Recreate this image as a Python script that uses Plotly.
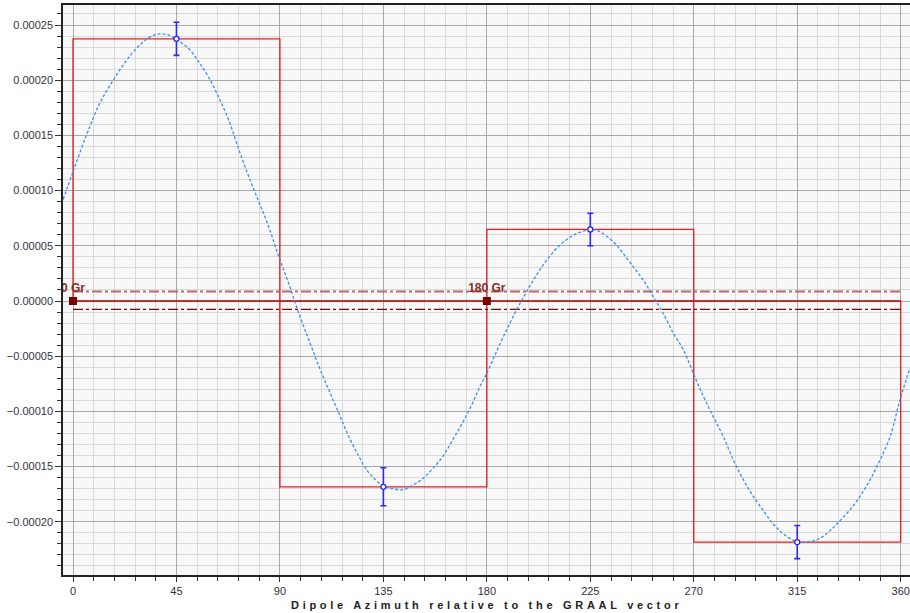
import plotly.graph_objects as go

# ---- data ----
bar_centers = [45, 135, 225, 315]
bar_values = [0.0002375, -0.0001683, 0.0000648, -0.0002184]
point_errors = [0.000015, 0.0000172, 0.0000147, 0.000015]

curve_deg = [-4.3, 0, 5.8, 11.6, 17.5, 23.3, 29.1, 34.2, 37.8, 41.5, 45, 50.2, 54.6,
             58.9, 63.3, 67.7, 72, 76.4, 80.8, 85.1, 89.5, 93.8, 98.2, 102.6, 107,
             111.3, 115.7, 120, 124.4, 128.8, 135.3, 138.9, 143.3, 147.7, 152, 156.4,
             160.8, 165.1, 169.5, 173.9, 177, 180, 184.2, 188.6, 192.9, 197.3, 201.6,
             206, 211.8, 217.6, 221.9, 225.3, 229.2, 235, 239.3, 243.7, 248, 252.4,
             256.7, 261.1, 265.5, 269.8, 274.2, 278.5, 282.9, 287.2, 291.6, 295.9,
             300.3, 304.6, 309, 314.8, 319.9, 324.9, 329.3, 333.6, 338, 342.3, 346.7,
             351, 355.4, 359.7, 364.0]
curve_val = [0.000092, 0.000117, 0.000150, 0.000179, 0.000200, 0.000218, 0.000232,
             0.000240, 0.000242, 0.000241, 0.000237, 0.000229, 0.000217, 0.000203,
             0.000185, 0.000164, 0.000138, 0.000113, 0.000090, 0.0000674, 0.0000402,
             0.000016, -0.0000112, -0.0000353, -0.0000595, -0.0000807, -0.000102,
             -0.000123, -0.000141, -0.000156, -0.000168, -0.000170, -0.000171,
             -0.000167, -0.000161, -0.000152, -0.000141, -0.000126, -0.000110,
             -0.000092, -0.0000774, -0.0000654, -0.0000458, -0.0000262, -0.0000081,
             0.0000084, 0.0000235, 0.000037, 0.0000506, 0.0000596, 0.0000633,
             0.0000648, 0.0000627, 0.0000536, 0.0000431, 0.000031, 0.000019,
             0.0000039, -0.0000111, -0.0000292, -0.0000443, -0.0000654, -0.0000864,
             -0.000105, -0.000123, -0.000144, -0.000162, -0.000177, -0.000190,
             -0.000202, -0.000211, -0.000218, -0.000218, -0.000215, -0.000208,
             -0.000199, -0.000189, -0.000177, -0.000162, -0.000144, -0.000123,
             -0.0000895, -0.0000608]

ref_x = [0, 360]
zero_level = [0.0, 0.0]
upper_level = [0.0000085, 0.0000085]
lower_level = [-0.0000075, -0.0000075]

marker_x = [0, 180]
marker_y = [0, 0]
marker_labels = ["0 Gr", "180 Gr"]

x_title = "Dipole Azimuth relative to the GRAAL vector"

FONT = "Liberation Sans, Arial, sans-serif"

fig = go.Figure()

fig.add_trace(go.Bar(
    x=bar_centers, y=bar_values, width=90,
    marker=dict(color="rgba(0,0,0,0)", line=dict(color="#e81c1c", width=1.3)),
    hoverinfo="skip"))

fig.add_trace(go.Scatter(x=ref_x, y=upper_level, mode="lines",
                         line=dict(color="#b86a6a", width=2, dash="10px,3px,3px,3px")))
fig.add_trace(go.Scatter(x=ref_x, y=lower_level, mode="lines",
                         line=dict(color="#6e0d0d", width=1.2, dash="10px,3px,3px,3px")))
fig.add_trace(go.Scatter(x=ref_x, y=zero_level, mode="lines",
                         line=dict(color="#8b1c1c", width=1.2)))

fig.add_trace(go.Scatter(x=curve_deg, y=curve_val, mode="lines",
                         line=dict(color="#3a8ef2", width=1.3, dash="3px,2px", shape="spline")))

fig.add_trace(go.Scatter(
    x=bar_centers, y=bar_values, mode="markers",
    marker=dict(symbol="circle", size=5, color="white", line=dict(color="#2323ff", width=1.3)),
    error_y=dict(type="data", array=point_errors, color="#2a2aff", thickness=1.6, width=3)))

fig.add_trace(go.Scatter(
    x=marker_x, y=marker_y, mode="markers+text",
    text=["<b>" + t + "</b>" for t in marker_labels],
    textposition="top center",
    textfont=dict(family=FONT, size=12, color="#8b2a2a"),
    marker=dict(symbol="square", size=8, color="#7a0000")))

fig.update_layout(
    width=910, height=613,
    margin=dict(l=63, r=0, t=5, b=38),
    paper_bgcolor="white", plot_bgcolor="#f8f8f8",
    showlegend=False,
    font=dict(family=FONT, size=11, color="#333340"),
)

fig.update_xaxes(
    range=[-4.35, 364.05], tick0=0, dtick=45, ticks="outside", ticklen=5,
    tickcolor="#333", showline=True, linecolor="#222", linewidth=1.5, mirror=True,
    showgrid=True, gridcolor="#a8a8a8", gridwidth=1, zeroline=False,
    tickfont=dict(family=FONT, size=11, color="#3a2a40"),
    minor=dict(dtick=9, tick0=0, ticks="outside", ticklen=4, tickcolor="#333",
               showgrid=True, gridcolor="#d9d9d9", gridwidth=1.3),
)
fig.update_yaxes(
    range=[-0.00024819, 0.00026812], tick0=0, dtick=0.00005, tickformat=".5f",
    ticks="outside", ticklen=6, tickcolor="#333", showline=True, linecolor="#222",
    linewidth=1.5, showgrid=True, gridcolor="#a8a8a8", gridwidth=1, zeroline=False,
    tickfont=dict(family=FONT, size=11, color="#333345"),
    minor=dict(dtick=0.00001, tick0=0, ticks="outside", ticklen=4, tickcolor="#333",
               showgrid=True, gridcolor="#d9d9d9", gridwidth=1.3),
)

fig.add_annotation(
    text='<b><span style="letter-spacing:3.7px">' + x_title + "</span></b>",
    xref="paper", yref="paper", x=0.5, y=-0.0518, xanchor="center", yanchor="middle",
    showarrow=False, font=dict(family=FONT, size=11, color="#222"),
)

fig.write_html(
    "out.html",
    config={"displayModeBar": False},
    post_script="document.body.style.margin='0';document.body.style.overflow='hidden';",
)
